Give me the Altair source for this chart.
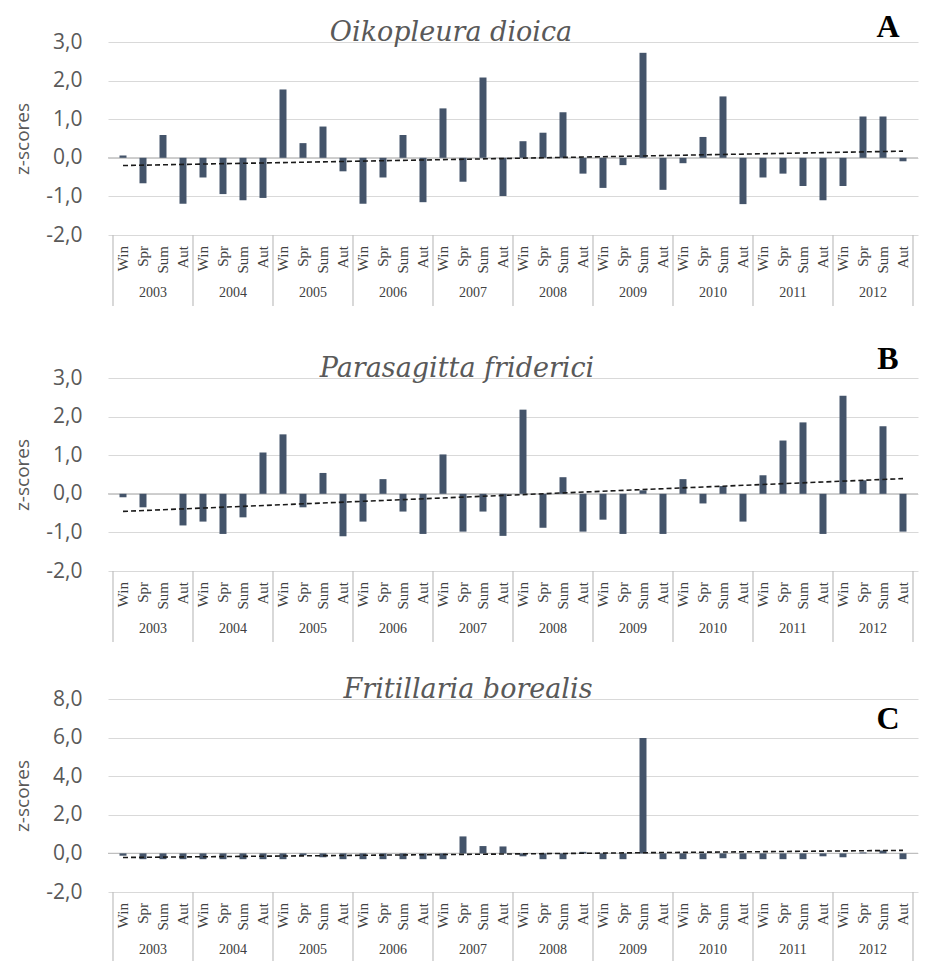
import altair as alt
import pandas as pd

seasons = ["Win", "Spr", "Sum", "Aut"]
years = [2003, 2004, 2005, 2006, 2007, 2008, 2009, 2010, 2011, 2012]

oikopleura = [0.06, -0.66, 0.59, -1.19,
              -0.51, -0.94, -1.10, -1.04,
              1.77, 0.38, 0.81, -0.35,
              -1.19, -0.51, 0.59, -1.15,
              1.28, -0.62, 2.08, -0.99,
              0.43, 0.65, 1.18, -0.41,
              -0.78, -0.19, 2.72, -0.83,
              -0.14, 0.54, 1.59, -1.20,
              -0.51, -0.41, -0.73, -1.10,
              -0.73, 1.07, 1.07, -0.09]

parasagitta = [-0.09, -0.35, 0.0, -0.82,
               -0.72, -1.04, -0.61, 1.07,
               1.54, -0.35, 0.54, -1.10,
               -0.72, 0.38, -0.46, -1.04,
               1.02, -0.98, -0.46, -1.09,
               2.18, -0.88, 0.43, -0.98,
               -0.67, -1.04, 0.09, -1.04,
               0.38, -0.25, 0.20, -0.72,
               0.48, 1.38, 1.85, -1.04,
               2.54, 0.35, 1.75, -0.98]

fritillaria = [-0.12, -0.30, -0.30, -0.30,
               -0.30, -0.30, -0.30, -0.30,
               -0.30, -0.10, -0.20, -0.30,
               -0.30, -0.30, -0.30, -0.30,
               -0.30, 0.88, 0.38, 0.36,
               -0.15, -0.30, -0.30, 0.08,
               -0.30, -0.30, 5.98, -0.30,
               -0.30, -0.30, -0.25, -0.30,
               -0.30, -0.30, -0.30, -0.15,
               -0.20, 0.05, 0.15, -0.30]

W = 810
H = 193
BAR = "#44546A"
GRID = "#D9D9D9"
AXISGRAY = "#595959"


def make_df(values):
    return pd.DataFrame({
        "pos": [i + 0.5 for i in range(len(values))],
        "z": values,
        "base": [0.0] * len(values),
        "season": [seasons[i % 4] for i in range(len(values))],
        "year": [str(years[i // 4]) for i in range(len(values))],
    })


year_df = pd.DataFrame({"year": [str(y) for y in years],
                        "mid": [4 * k + 2 for k in range(len(years))]})
sep_df = pd.DataFrame({"edge": [4 * k for k in range(len(years) + 1)]})

xscale = alt.Scale(domain=[0, 4 * len(years)], nice=False, zero=False)
label_expr = "(datum.value < 0 ? '-' : '') + replace(format(abs(datum.value), '.1f'), '.', ',')"


def panel(values, title, letter, ymin, ymax, step, title_x, letter_y, view_h):
    df = make_df(values)
    yscale = alt.Scale(domain=[ymin, ymax], nice=False, zero=False, range=[H, 0])
    ticks = list(range(ymin, ymax + 1, step))
    yaxis = alt.Axis(
        values=ticks, tickCount=len(ticks), grid=True, gridColor=GRID, gridWidth=1.2,
        domain=False, ticks=False,
        labelExpr=label_expr, labelFont="Open Sans", labelFontSize=21,
        labelColor=AXISGRAY, labelPadding=26, labelOverlap=False,
        title="z-scores", titleFont="Open Sans", titleFontSize=19,
        titleFontWeight="normal", titleColor=AXISGRAY, titlePadding=13)
    base = alt.Chart(df)
    bars = base.mark_bar(size=7, color=BAR, orient="vertical").encode(
        x=alt.X("pos:Q", scale=xscale, axis=None),
        y=alt.Y("z:Q", scale=yscale, axis=yaxis),
        y2="base:Q",
    )
    zero = alt.Chart(pd.DataFrame({"z": [0]})).mark_rule(color="#BFBFBF", strokeWidth=1.2).encode(
        y=alt.Y("z:Q", scale=yscale, axis=yaxis))
    trend = base.transform_regression("pos", "z").mark_line(
        color="#1a1a1a", strokeDash=[5, 3], strokeWidth=1.6).encode(
        x=alt.X("pos:Q", scale=xscale, axis=None),
        y=alt.Y("z:Q", scale=yscale, axis=yaxis))
    season_txt = base.mark_text(angle=270, align="right", baseline="middle",
                                font="Liberation Serif", fontSize=15, color="#404040").encode(
        x=alt.X("pos:Q", scale=xscale, axis=None),
        y=alt.value(H + 11),
        text="season:N")
    year_txt = alt.Chart(year_df).mark_text(align="center", baseline="middle",
                                            font="Liberation Serif", fontSize=14,
                                            color="#404040").encode(
        x=alt.X("mid:Q", scale=xscale, axis=None),
        y=alt.value(H + 58),
        text="year:N")
    seps = alt.Chart(sep_df).mark_rule(color="#BFBFBF", strokeWidth=1.2).encode(
        x=alt.X("edge:Q", scale=xscale, axis=None),
        y=alt.value(H),
        y2=alt.value(H + 71))
    ttl = alt.Chart(pd.DataFrame({"t": [title]})).mark_text(
        font="DejaVu Serif", fontStyle="italic", fontSize=27, color=AXISGRAY,
        align="center", baseline="alphabetic").encode(
        x=alt.value(title_x), y=alt.value(-1), text="t:N")
    let = alt.Chart(pd.DataFrame({"t": [letter]})).mark_text(
        font="Liberation Serif", fontWeight="bold", fontSize=32, color="#000000",
        align="center", baseline="alphabetic").encode(
        x=alt.value(780), y=alt.value(letter_y), text="t:N")
    return alt.layer(zero, bars, trend, season_txt, year_txt, seps, ttl, let).properties(
        width=W, height=view_h)


pA = panel(oikopleura, "Oikopleura dioica", "A", -2, 3, 1, 343, -5, H + 15)
pB = panel(parasagitta, "Parasagitta friderici", "B", -2, 3, 1, 349, -9, H)
pC = panel(fritillaria, "Fritillaria borealis", "C", -2, 8, 2, 360, 30, H)

chart = alt.vconcat(pA, pB, pC, spacing=128, bounds="flush").properties(
    padding={"left": 5, "top": 3, "right": 0, "bottom": 0},
    background="white",
).configure_view(stroke=None).configure_axis(labelOverlap=False)

chart.save("out.html", embed_options={"renderer": "svg", "actions": False})
